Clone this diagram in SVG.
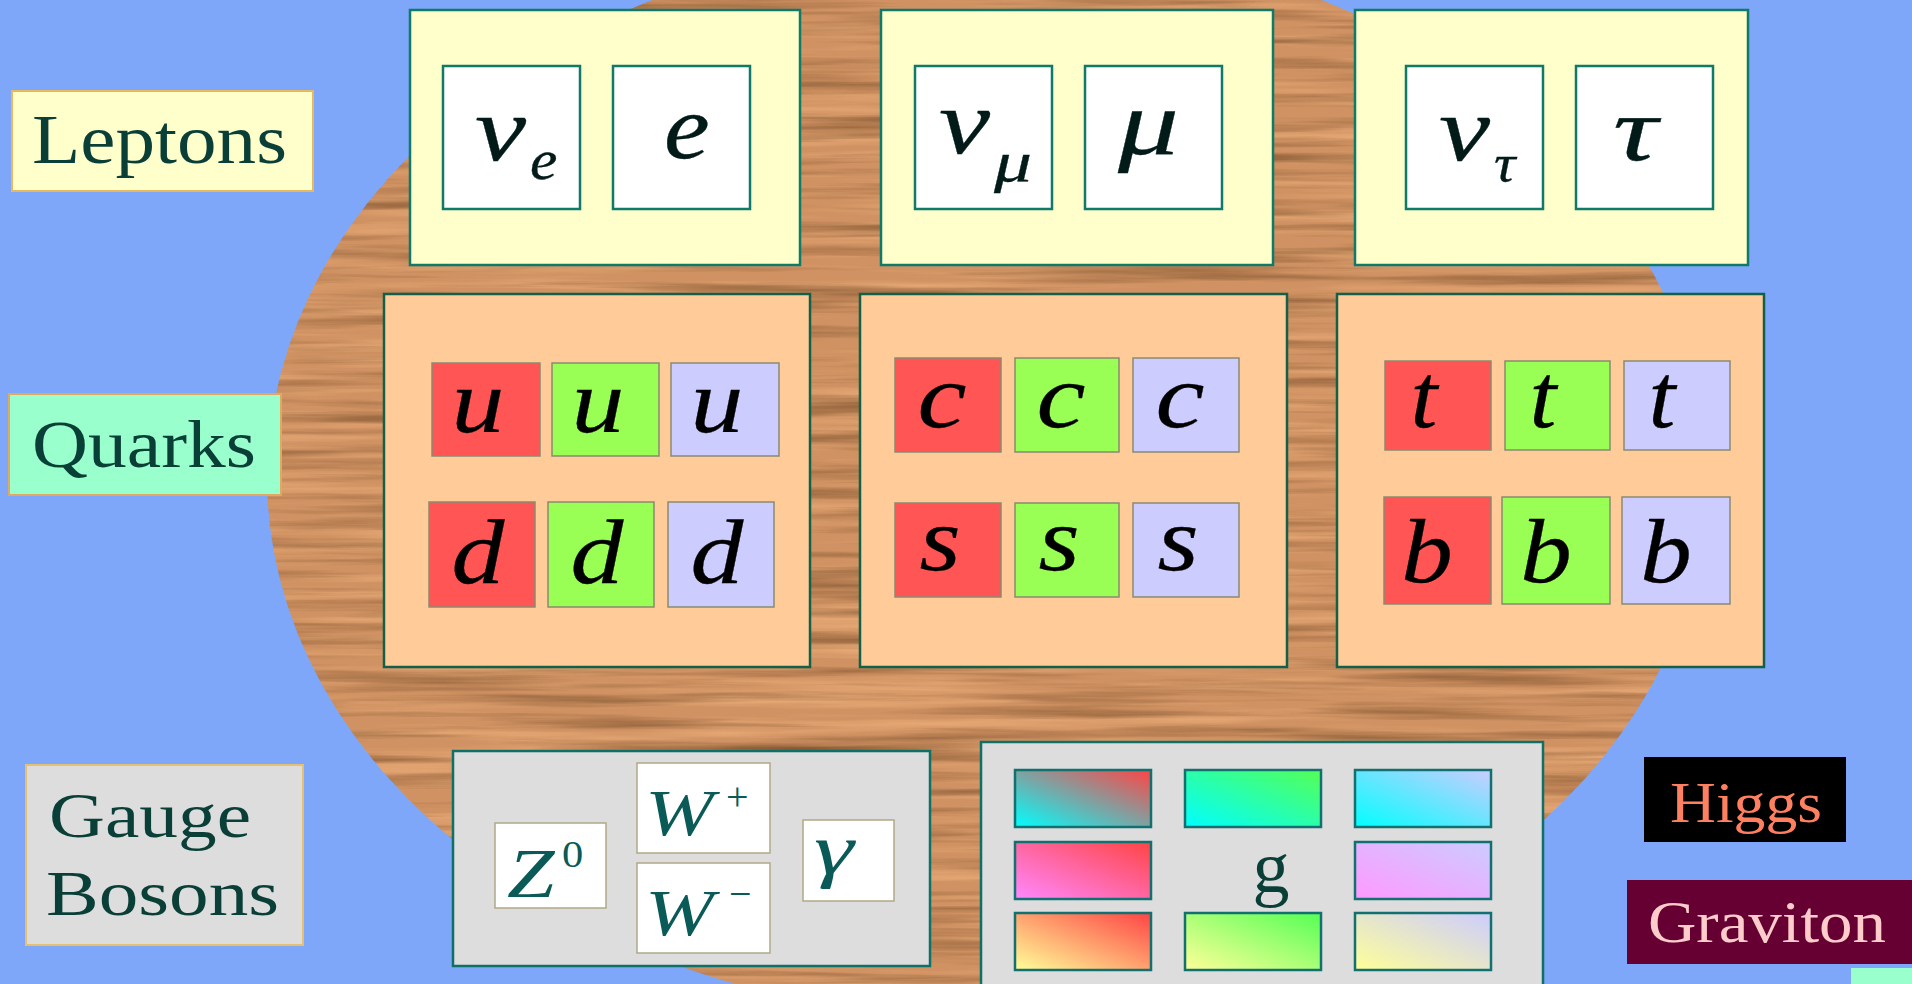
<svg xmlns="http://www.w3.org/2000/svg" width="1912" height="984" viewBox="0 0 1912 984">
<defs>
<style>
.lbl{font-family:"Liberation Serif","Times New Roman",serif;fill:#0a3f38;}
.sym{font-family:"Liberation Serif","Times New Roman",serif;font-style:italic;}
.lbox{fill:#FFFFCC;stroke:#0f7a68;stroke-width:2.5;}
.lcell{fill:#FFFFFF;stroke:#0f7a68;stroke-width:2.5;}
.qbox{fill:#FFCC99;stroke:#12604a;stroke-width:2.5;}
.qcell{stroke:#8a8a70;stroke-width:1.5;}
.red{fill:#FF5555;}
.grn{fill:#99FF55;}
.lav{fill:#CCCCFF;}
.gbox{fill:#DDDDDD;stroke:#0f7068;stroke-width:2.5;}
.bcell{fill:#FFFFFF;stroke:#b0a888;stroke-width:1.5;}
.glu{stroke:#137070;stroke-width:2.5;}
.qt{font-size:92px;fill:#000;stroke:#000;stroke-width:0.3;text-anchor:middle;}
.lt{fill:#021a18;stroke:#021a18;stroke-width:0.3;}
.bt{fill:#0a5a58;}
</style>
<filter id="woodF" x="0" y="0" width="1" height="1" color-interpolation-filters="sRGB">
<feTurbulence type="fractalNoise" baseFrequency="0.003 0.085" numOctaves="4" seed="7" result="n"/>
<feColorMatrix in="n" type="matrix" values="0 0 0 0 0.48  0 0 0 0 0.31  0 0 0 0 0.17  1.7 0 0 0 -0.78" result="dark"/>
<feColorMatrix in="n" type="matrix" values="0 0 0 0 0.95  0 0 0 0 0.71  0 0 0 0 0.50  0 -1.7 0 0 0.92" result="light"/>
<feMerge result="m"><feMergeNode in="SourceGraphic"/><feMergeNode in="light"/><feMergeNode in="dark"/></feMerge>
<feComposite in="m" in2="SourceGraphic" operator="in"/>
</filter>
<linearGradient id="gRC" x1="1" y1="0" x2="0" y2="1"><stop offset="0" stop-color="#FF4444"/><stop offset="1" stop-color="#00FFFF"/></linearGradient>
<linearGradient id="gGC" x1="1" y1="0" x2="0" y2="1"><stop offset="0" stop-color="#55FF55"/><stop offset="1" stop-color="#00FFFF"/></linearGradient>
<linearGradient id="gLC" x1="1" y1="0" x2="0" y2="1"><stop offset="0" stop-color="#CCCCFF"/><stop offset="1" stop-color="#00FFFF"/></linearGradient>
<linearGradient id="gRM" x1="1" y1="0" x2="0" y2="1"><stop offset="0" stop-color="#FF4444"/><stop offset="1" stop-color="#FF88FF"/></linearGradient>
<linearGradient id="gLM" x1="1" y1="0" x2="0" y2="1"><stop offset="0" stop-color="#CCCCFF"/><stop offset="1" stop-color="#FF99FF"/></linearGradient>
<linearGradient id="gRY" x1="1" y1="0" x2="0" y2="1"><stop offset="0" stop-color="#FF4444"/><stop offset="1" stop-color="#FFFF99"/></linearGradient>
<linearGradient id="gGY" x1="1" y1="0" x2="0" y2="1"><stop offset="0" stop-color="#55FF55"/><stop offset="1" stop-color="#FFFF99"/></linearGradient>
<linearGradient id="gLY" x1="1" y1="0" x2="0" y2="1"><stop offset="0" stop-color="#CCCCFF"/><stop offset="1" stop-color="#FFFF99"/></linearGradient>
</defs>

<rect x="0" y="0" width="1912" height="984" fill="#7FA7F9"/>
<ellipse id="wood" cx="987" cy="478" rx="720" ry="540" fill="#D09262" filter="url(#woodF)"/>

<g id="connectors"/>

<g id="label-leptons">
<rect x="12" y="91" width="301" height="100" fill="#FFFFCC" stroke="#E6B860" stroke-width="2"/>
<text class="lbl" x="32" y="163" font-size="70" textLength="255" lengthAdjust="spacingAndGlyphs">Leptons</text>
</g>
<g id="label-quarks">
<rect x="9" y="394" width="272" height="101" fill="#99FFCC" stroke="#E0A860" stroke-width="2"/>
<text class="lbl" x="32" y="467" font-size="67" textLength="224" lengthAdjust="spacingAndGlyphs">Quarks</text>
</g>
<g id="label-gauge">
<rect x="26" y="765" width="277" height="180" fill="#DDDDDD" stroke="#E6C070" stroke-width="2"/>
<text class="lbl" x="49" y="837" font-size="64" textLength="202" lengthAdjust="spacingAndGlyphs">Gauge</text>
<text class="lbl" x="46" y="915" font-size="64" textLength="233" lengthAdjust="spacingAndGlyphs">Bosons</text>
</g>

<g id="leptons-gen1">
<rect class="lbox" x="410" y="10" width="390" height="255"/>
<rect class="lcell" x="443" y="66" width="137" height="143"/>
<rect class="lcell" x="613" y="66" width="137" height="143"/>
<text class="sym lt" transform="translate(475,160) scale(1.25,1)" font-size="92">ν</text>
<text class="sym lt" transform="translate(530,179) scale(1.1,1)" font-size="56">e</text>
<text class="sym lt" transform="translate(664,158) scale(1.12,1)" font-size="92">e</text>
</g>
<g id="leptons-gen2">
<rect class="lbox" x="881" y="10" width="392" height="255"/>
<rect class="lcell" x="915" y="66" width="137" height="143"/>
<rect class="lcell" x="1085" y="66" width="137" height="143"/>
<text class="sym lt" transform="translate(939,153) scale(1.25,1)" font-size="92">ν</text>
<text class="sym lt" transform="translate(994,181) scale(1.35,1)" font-size="56">μ</text>
<text class="sym lt" transform="translate(1118,154) scale(1.35,1)" font-size="90">μ</text>
</g>
<g id="leptons-gen3">
<rect class="lbox" x="1355" y="10" width="393" height="255"/>
<rect class="lcell" x="1406" y="66" width="137" height="143"/>
<rect class="lcell" x="1576" y="66" width="137" height="143"/>
<text class="sym lt" transform="translate(1439,160) scale(1.25,1)" font-size="92">ν</text>
<text class="sym lt" transform="translate(1494,181) scale(1.15,1)" font-size="52">τ</text>
<text class="sym lt" transform="translate(1613,160) scale(1.35,1)" font-size="92">τ</text>
</g>

<g id="quarks-gen1">
<rect class="qbox" x="384" y="294" width="426" height="373"/>
<rect class="qcell red" x="432" y="363" width="108" height="93"/>
<rect class="qcell grn" x="552" y="363" width="107" height="93"/>
<rect class="qcell lav" x="671" y="363" width="108" height="93"/>
<rect class="qcell red" x="429" y="502" width="106" height="105"/>
<rect class="qcell grn" x="548" y="502" width="106" height="105"/>
<rect class="qcell lav" x="668" y="502" width="106" height="105"/>
<text class="sym qt" transform="translate(478,432) scale(1.15,1)">u</text>
<text class="sym qt" transform="translate(598,432) scale(1.15,1)">u</text>
<text class="sym qt" transform="translate(717,432) scale(1.15,1)">u</text>
<text class="sym qt" transform="translate(478,583) scale(1.15,1)">d</text>
<text class="sym qt" transform="translate(597,583) scale(1.15,1)">d</text>
<text class="sym qt" transform="translate(717,583) scale(1.15,1)">d</text>
</g>
<g id="quarks-gen2">
<rect class="qbox" x="860" y="294" width="427" height="373"/>
<rect class="qcell red" x="895" y="358" width="106" height="94"/>
<rect class="qcell grn" x="1015" y="358" width="104" height="94"/>
<rect class="qcell lav" x="1133" y="358" width="106" height="94"/>
<rect class="qcell red" x="895" y="503" width="106" height="94"/>
<rect class="qcell grn" x="1015" y="503" width="104" height="94"/>
<rect class="qcell lav" x="1133" y="503" width="106" height="94"/>
<text class="sym qt" transform="translate(942,427) scale(1.2,1)">c</text>
<text class="sym qt" transform="translate(1061,427) scale(1.2,1)">c</text>
<text class="sym qt" transform="translate(1180,427) scale(1.2,1)">c</text>
<text class="sym qt" transform="translate(940,570) scale(1.15,1)">s</text>
<text class="sym qt" transform="translate(1059,570) scale(1.15,1)">s</text>
<text class="sym qt" transform="translate(1178,570) scale(1.15,1)">s</text>
</g>
<g id="quarks-gen3">
<rect class="qbox" x="1337" y="294" width="427" height="373"/>
<rect class="qcell red" x="1385" y="361" width="106" height="89"/>
<rect class="qcell grn" x="1505" y="361" width="105" height="89"/>
<rect class="qcell lav" x="1624" y="361" width="106" height="89"/>
<rect class="qcell red" x="1384" y="497" width="107" height="107"/>
<rect class="qcell grn" x="1502" y="497" width="108" height="107"/>
<rect class="qcell lav" x="1622" y="497" width="108" height="107"/>
<text class="sym qt" transform="translate(1424,427) scale(1.05,1)">t</text>
<text class="sym qt" transform="translate(1543,427) scale(1.05,1)">t</text>
<text class="sym qt" transform="translate(1662,427) scale(1.05,1)">t</text>
<text class="sym qt" transform="translate(1427,582) scale(1.12,1)">b</text>
<text class="sym qt" transform="translate(1546,582) scale(1.12,1)">b</text>
<text class="sym qt" transform="translate(1666,582) scale(1.12,1)">b</text>
</g>

<g id="electroweak-bosons">
<rect class="gbox" x="453" y="751" width="477" height="215"/>
<rect class="bcell" x="495" y="823" width="111" height="85"/>
<rect class="bcell" x="637" y="763" width="133" height="90"/>
<rect class="bcell" x="637" y="863" width="133" height="90"/>
<rect class="bcell" x="803" y="820" width="91" height="81"/>
<text class="sym bt" transform="translate(507,897) scale(1.22,1)" font-size="70">Z</text>
<text class="lbl bt" transform="translate(562,867) scale(1.15,1)" font-size="37">0</text>
<text class="sym bt" transform="translate(645,835) scale(1.25,1)" font-size="66">W</text>
<text class="lbl bt" x="726" y="810" font-size="40">+</text>
<text class="sym bt" transform="translate(645,935) scale(1.25,1)" font-size="66">W</text>
<text class="lbl bt" x="729" y="907" font-size="40">−</text>
<text class="sym bt" transform="translate(814,874) scale(1.4,1)" font-size="72">γ</text>
</g>

<g id="gluons">
<rect class="gbox" x="981" y="742" width="562" height="260"/>
<rect class="glu" x="1015" y="770" width="136" height="57" fill="url(#gRC)"/>
<rect class="glu" x="1185" y="770" width="136" height="57" fill="url(#gGC)"/>
<rect class="glu" x="1355" y="770" width="136" height="57" fill="url(#gLC)"/>
<rect class="glu" x="1015" y="842" width="136" height="57" fill="url(#gRM)"/>
<rect class="glu" x="1355" y="842" width="136" height="57" fill="url(#gLM)"/>
<rect class="glu" x="1015" y="913" width="136" height="57" fill="url(#gRY)"/>
<rect class="glu" x="1185" y="913" width="136" height="57" fill="url(#gGY)"/>
<rect class="glu" x="1355" y="913" width="136" height="57" fill="url(#gLY)"/>
<text class="lbl" x="1271" y="892" font-size="74" text-anchor="middle" fill="#06302c">g</text>
</g>

<g id="higgs">
<rect x="1644" y="757" width="202" height="85" fill="#000000"/>
<text x="1670" y="822" font-family="Liberation Serif, serif" font-size="56" fill="#FF8060" textLength="152" lengthAdjust="spacingAndGlyphs">Higgs</text>
</g>
<g id="graviton">
<rect x="1627" y="880" width="285" height="84" fill="#660033"/>
<text x="1648" y="942" font-family="Liberation Serif, serif" font-size="59" fill="#FFCCCC" textLength="238" lengthAdjust="spacingAndGlyphs">Graviton</text>
</g>
<rect id="corner" x="1851" y="968" width="61" height="16" fill="#99FFCC"/>
</svg>
